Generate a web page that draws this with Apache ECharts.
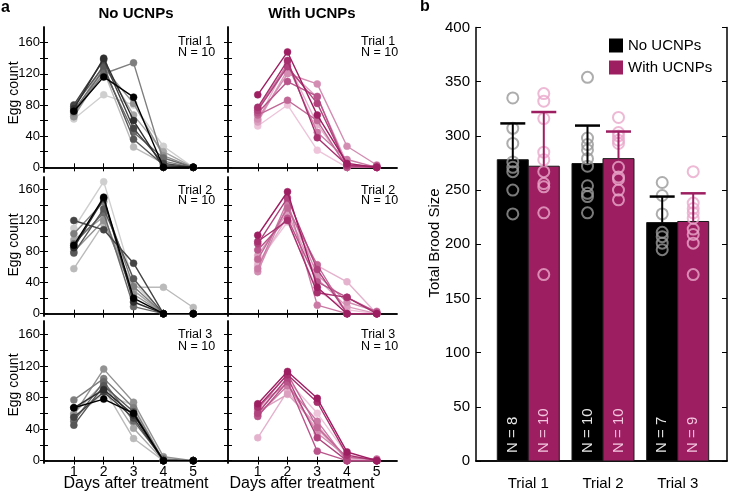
<!DOCTYPE html>
<html><head><meta charset="utf-8">
<script src="https://cdn.jsdelivr.net/npm/echarts@6/dist/echarts.min.js"></script>
<style>html,body{margin:0;padding:0;background:#fff}#c{width:731px;height:491px}</style>
</head><body><div id="c"></div>
<script>
// ---------- DATA ----------
const days = [1, 2, 3, 4, 5];
const trials = ['Trial 1', 'Trial 2', 'Trial 3'];
const eggTicks = [0, 20, 40, 60, 80, 100, 120, 140, 160];
const eggLabels = [0, 40, 80, 120, 160];
const broodTicks = [0, 50, 100, 150, 200, 250, 300, 350, 400];

// egg counts per worm over days 1..5 (worms ordered dark -> light)
const noT1 = [
  [72, 116, 90, 0, 0], [75, 140, 60, 0, 0], [80, 138, 50, 5, 0], [78, 130, 36, 3, 0], [73, 125, 45, 12, 0],
  [70, 120, 134, 8, 0], [65, 128, 82, 15, 0], [68, 132, 67, 20, 0], [65, 124, 26, 5, 0], [62, 93, 80, 27, 0]];
const withT1 = [
  [93, 148, 67, 5, 0], [77, 137, 38, 3, 0], [73, 129, 82, 2, 0], [70, 110, 91, 0, 2], [67, 86, 60, 0, 0],
  [75, 132, 45, 10, 0], [62, 120, 107, 27, 3], [58, 125, 90, 5, 0], [60, 135, 55, 2, 0], [53, 80, 22, 0, 0]];
const noT2 = [
  [88, 150, 20, 0, 0], [85, 148, 15, 0, 0], [120, 108, 65, 0, 0], [78, 135, 45, 0, 0], [90, 130, 9, 0, 0],
  [103, 144, 35, 0, 0], [80, 120, 25, 0, 0], [95, 125, 30, 0, 0], [58, 116, 34, 34, 8], [110, 170, 40, 0, 0]];
const withT2 = [
  [101, 157, 34, 0, 0], [93, 120, 27, 21, 0], [90, 149, 57, 0, 0], [82, 123, 41, 21, 2], [70, 136, 63, 0, 0],
  [58, 145, 11, 0, 0], [54, 140, 50, 15, 3], [75, 130, 45, 9, 0], [62, 125, 62, 41, 0], [66, 118, 30, 5, 0]];
const noT3 = [
  [67, 78, 60, 0, 0], [67, 90, 58, 0, 0], [55, 87, 54, 0, 0], [45, 95, 62, 0, 0], [50, 100, 50, 2, 0],
  [77, 104, 67, 0, 0], [58, 116, 74, 5, 0], [60, 98, 41, 0, 0], [52, 92, 28, 0, 0], [54, 85, 70, 0, 0]];
const withT3 = [
  [72, 113, 79, 11, 0], [68, 109, 74, 7, 0], [60, 105, 29, 0, 0], [56, 100, 12, 0, 0], [65, 110, 42, 4, 2],
  [58, 95, 50, 0, 0], [70, 98, 35, 5, 0], [62, 84, 45, 0, 0], [29, 88, 40, 2, 0], [64, 102, 60, 8, 0]];

// total brood size
const broodNoMean = [278, 274.5, 220];
const broodNoSD = [33.5, 35, 24];
const broodNoN = [8, 10, 7];
const broodWithMean = [272, 279, 221];
const broodWithSD = [50, 25, 26];
const broodWithN = [10, 10, 9];
const broodNoPts = [
  [335, 307, 293, 276, 271, 267, 250, 228],
  [354, 298, 292, 287, 279, 272, 254, 247, 244, 229],
  [257, 245, 228, 211, 207, 201, 195]];
const broodWithPts = [
  [339, 332, 316, 285, 278, 267, 256, 253, 229, 172],
  [317, 303, 300, 296, 293, 271, 262, 260, 250, 241],
  [267, 238, 233, 229, 224, 214, 209, 201, 172]];

// ---------- STYLE / LAYOUT ----------
const FONT = "'Liberation Sans', Arial, Helvetica, sans-serif";
const MAG = '#9e1e62';
const grayShades = ['#000000', '#2e2e2e', '#444444', '#575757', '#6a6a6a', '#7e7e7e', '#929292', '#a6a6a6', '#bababa', '#cfcfcf'];
function magShade(i) {
  const t = i / 9;
  const a = [158, 30, 98], b = [238, 196, 218];
  const c = a.map((v, k) => Math.round(v + (b[k] - v) * t));
  return 'rgb(' + c.join(',') + ')';
}
const magShades = Array.from({length: 10}, (_, i) => magShade(i));

const rowsA = [
  {top: 27, height: 145, min: -6, max: 180},
  {top: 177, height: 139, min: -3, max: 176},
  {top: 321, height: 142, min: -3, max: 177}];
const colsA = [
  {left: 44, width: 183, max: 6.13},
  {left: 228, width: 169, max: 5.68}];
const panelData = [[noT1, withT1], [noT2, withT2], [noT3, withT3]];

const grids = [], xAxes = [], yAxes = [], series = [], graphics = [];
const axLine = {show: true, lineStyle: {color: '#000', width: 1.5}};

for (let r = 0; r < 3; r++) {
  for (let c = 0; c < 2; c++) {
    const p = r * 2 + c;
    grids.push({left: colsA[c].left, top: rowsA[r].top, width: colsA[c].width, height: rowsA[r].height});
    const xBase = {type: 'value', gridIndex: p, min: 0, max: colsA[c].max, splitLine: {show: false}, axisLine: axLine,
      axisTick: {show: true, inside: true, length: 4, customValues: days, lineStyle: {color: '#000', width: 1}}};
    xAxes.push(Object.assign({}, xBase, {position: 'bottom',
      axisLabel: {show: r === 2, customValues: days, fontSize: 14, color: '#000', fontFamily: FONT, margin: 2}}));
    xAxes.push(Object.assign({}, xBase, {position: 'top', axisLabel: {show: false}}));
    const yBase = {type: 'value', gridIndex: p, min: rowsA[r].min, max: rowsA[r].max, splitLine: {show: false}, axisLine: axLine,
      axisTick: {show: true, inside: true, length: 4, customValues: eggTicks, lineStyle: {color: '#000', width: 1}}};
    yAxes.push(Object.assign({}, yBase, {position: 'left',
      axisLabel: {show: c === 0, customValues: eggLabels, fontSize: 13, color: '#000', fontFamily: FONT, margin: 4}}));
    yAxes.push(Object.assign({}, yBase, {position: 'right', axisLabel: {show: false}}));

    const lines = panelData[r][c];
    const shades = c === 0 ? grayShades : magShades;
    for (let i = lines.length - 1; i >= 0; i--) {
      series.push({type: 'line', xAxisIndex: 2 * p, yAxisIndex: 2 * p, silent: true,
        data: days.map((d, k) => [d, lines[i][k]]),
        symbol: 'circle', symbolSize: 7, showSymbol: true,
        lineStyle: {color: shades[i], width: 1.4},
        itemStyle: {color: shades[i], borderColor: shades[i], borderWidth: 0.5},
        z: 2 + (10 - i) * 0.01});
    }
  }
}

// Panel b
const pb = 6;
grids.push({left: 476, top: 27.5, width: 251, height: 433.5});
xAxes.push({type: 'value', gridIndex: pb, min: 0.3, max: 3.66, position: 'bottom', splitLine: {show: false}, axisLine: axLine,
  axisTick: {show: false},
  axisLabel: {customValues: [1, 2, 3], formatter: v => trials[Math.round(v) - 1], fontSize: 15, color: '#000', fontFamily: FONT, margin: 15}});
xAxes.push({type: 'value', gridIndex: pb, min: 0.3, max: 3.66, position: 'top', splitLine: {show: false}, axisLine: axLine,
  axisTick: {show: false}, axisLabel: {show: false}});
yAxes.push({type: 'value', gridIndex: pb, min: 0, max: 400, position: 'left', splitLine: {show: false}, axisLine: axLine,
  axisTick: {show: true, inside: true, length: 5, customValues: broodTicks, lineStyle: {color: '#000'}},
  axisLabel: {customValues: broodTicks, fontSize: 15, color: '#000', fontFamily: FONT, margin: 6}});
yAxes.push({type: 'value', gridIndex: pb, min: 0, max: 400, position: 'right', splitLine: {show: false}, axisLine: axLine,
  axisTick: {show: true, inside: true, length: 5, customValues: broodTicks, lineStyle: {color: '#000'}},
  axisLabel: {show: false}});

const BW = 31, OFF = 15.5;
function barSeries(name, means, sds, ns, color, off, labelColor) {
  return {type: 'custom', name: name, xAxisIndex: 12, yAxisIndex: 12, itemStyle: {color: color}, z: 3,
    data: means.map((m, i) => [i + 1, m, sds[i], ns[i]]),
    renderItem: (params, api) => {
      const x = api.value(0), m = api.value(1), n = api.value(3);
      const base = api.coord([x, 0]), top = api.coord([x, m]);
      const cx = base[0] + off;
      return {type: 'group', children: [
        {type: 'rect', shape: {x: cx - BW / 2, y: top[1], width: BW, height: base[1] - top[1]},
          style: {fill: color, stroke: '#1a1a1a', lineWidth: 1}},
        {type: 'text', x: cx, y: base[1] - 8, rotation: Math.PI / 2,
          style: {text: 'N = ' + n, fill: labelColor, font: '15px ' + FONT, align: 'left', verticalAlign: 'middle'}}
      ]};
    }};
}
function errSeries(name, means, sds, color, off) {
  return {type: 'custom', name: name, xAxisIndex: 12, yAxisIndex: 12, z: 6, silent: true,
    data: means.map((m, i) => [i + 1, m, sds[i]]),
    renderItem: (params, api) => {
      const x = api.value(0), m = api.value(1), sd = api.value(2);
      const top = api.coord([x, m]), et = api.coord([x, m + sd]);
      const cx = top[0] + off;
      return {type: 'group', children: [
        {type: 'line', shape: {x1: cx, y1: top[1], x2: cx, y2: et[1]}, style: {stroke: color, lineWidth: 2}},
        {type: 'line', shape: {x1: cx - 12.5, y1: et[1], x2: cx + 12.5, y2: et[1]}, style: {stroke: color, lineWidth: 2.5}}
      ]};
    }};
}
function ptsSeries(name, pts, color, off) {
  const data = [];
  pts.forEach((arr, i) => arr.forEach(v => data.push([i + 1, v])));
  return {type: 'scatter', name: name, xAxisIndex: 12, yAxisIndex: 12, z: 5, silent: true,
    data: data, symbol: 'circle', symbolSize: 11, symbolOffset: [off, 0],
    itemStyle: {color: 'rgba(0,0,0,0)', borderColor: color, borderWidth: 2}};
}
series.push(barSeries('No UCNPs', broodNoMean, broodNoSD, broodNoN, '#000000', -OFF, '#e6e6e6'));
series.push(barSeries('With UCNPs', broodWithMean, broodWithSD, broodWithN, MAG, OFF, '#f3c6df'));
series.push(ptsSeries('ptsNo', broodNoPts, '#999999', -OFF));
series.push(ptsSeries('ptsWith', broodWithPts, '#e9a7cb', OFF));
series.push(errSeries('errNo', broodNoMean, broodNoSD, '#000000', -OFF));
series.push(errSeries('errWith', broodWithMean, broodWithSD, MAG, OFF));

// ---------- TEXT ----------
function txt(x, y, text, font, opts) {
  graphics.push(Object.assign({type: 'text', x: x, y: y, silent: true,
    style: Object.assign({text: text, font: font, fill: '#000', align: 'center', verticalAlign: 'middle'}, (opts && opts.style) || {})},
    (opts && opts.rotation) ? {rotation: opts.rotation} : {}));
}
txt(1, 8, 'a', 'bold 16px ' + FONT, {style: {align: 'left'}});
txt(420, 7, 'b', 'bold 16px ' + FONT, {style: {align: 'left'}});
txt(136, 14, 'No UCNPs', 'bold 15px ' + FONT);
txt(312, 14, 'With UCNPs', 'bold 15px ' + FONT);
[93, 245, 385].forEach(y => txt(14, y, 'Egg count', '14px ' + FONT, {rotation: Math.PI / 2}));
txt(136, 484, 'Days after treatment', '16px ' + FONT);
txt(302, 484, 'Days after treatment', '16px ' + FONT);
txt(435, 243, 'Total Brood Size', '15px ' + FONT, {rotation: Math.PI / 2});
const trialLabelY = [[42, 53], [190.5, 201], [335, 346.5]];
for (let r = 0; r < 3; r++) {
  [178, 361].forEach(x => {
    txt(x, trialLabelY[r][0], trials[r], '12.5px ' + FONT, {style: {align: 'left'}});
    txt(x, trialLabelY[r][1], 'N = ' + (10), '12.5px ' + FONT, {style: {align: 'left'}});
  });
}

const chart = echarts.init(document.getElementById('c'), null, {renderer: 'canvas'});
chart.setOption({
  animation: false,
  backgroundColor: '#fff',
  grid: grids, xAxis: xAxes, yAxis: yAxes, series: series,
  legend: {data: [{name: 'No UCNPs', itemStyle: {color: '#000'}}, {name: 'With UCNPs', itemStyle: {color: MAG}}],
    orient: 'vertical', left: 609, top: 38, itemWidth: 14, itemHeight: 14, itemGap: 7, padding: 0, icon: 'rect',
    selectedMode: false, textStyle: {fontSize: 15, color: '#000', fontFamily: FONT}},
  graphic: graphics
});
</script></body></html>
